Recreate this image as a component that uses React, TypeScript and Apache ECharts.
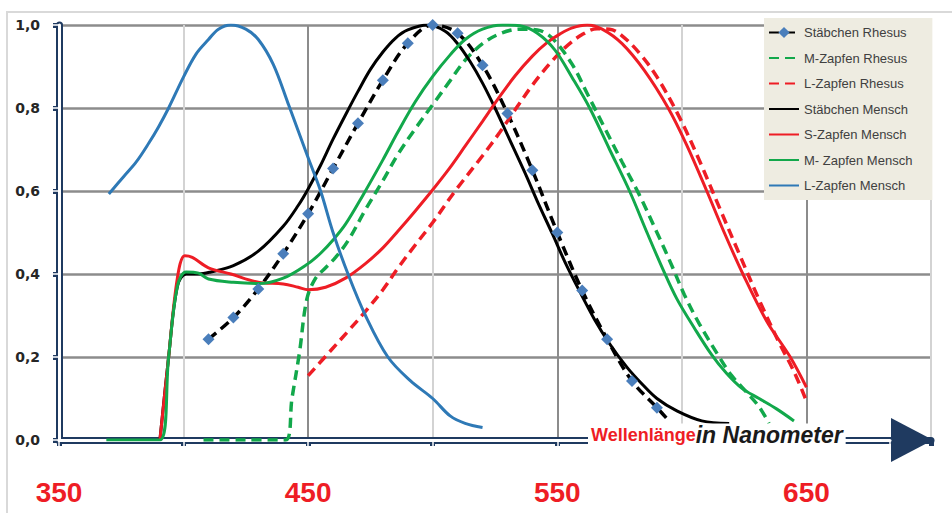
import React, { useEffect, useRef } from 'react';
import * as echarts from 'echarts';

// Wavelength (nm) / relative sensitivity pairs
const rodRhesusWl = [410, 420, 430, 440, 450, 460, 470, 480, 490, 500, 510, 520, 530, 540, 550, 560, 570, 580, 590];
const rodRhesusVal = [0.243, 0.295, 0.364, 0.449, 0.545, 0.654, 0.763, 0.867, 0.956, 1.0, 0.98, 0.903, 0.787, 0.65, 0.5, 0.36, 0.243, 0.142, 0.078];
const rodRhesusTail: [number, number] = [595, 0.045];

const mConeRhesus: [number, number][] = [
  [408, 0], [425, 0], [441, 0], [443.5, 0.1], [446.5, 0.21], [449.5, 0.34], [453, 0.39], [457, 0.415],
  [461, 0.44], [466, 0.48], [473, 0.555], [480, 0.625], [486, 0.688], [493, 0.75], [500, 0.808], [507, 0.866],
  [513, 0.915], [520, 0.955], [527, 0.979], [535, 0.99], [542, 0.988], [548, 0.968], [556, 0.905], [562, 0.835],
  [569, 0.752], [576, 0.67], [583, 0.59], [590, 0.5], [596, 0.42], [601, 0.35], [607, 0.28], [615, 0.2],
  [620, 0.155], [626, 0.115], [631, 0.08], [635, 0.04],
];

const lConeRhesus: [number, number][] = [
  [450, 0.155], [459, 0.215], [466, 0.262], [473, 0.31], [480, 0.362], [486, 0.414], [493, 0.47], [500, 0.524],
  [509, 0.6], [520, 0.685], [527, 0.742], [533, 0.795], [540, 0.855], [547, 0.907], [553, 0.945], [560, 0.977],
  [566, 0.991], [571, 0.99], [576, 0.974], [583, 0.932], [590, 0.875], [599, 0.778], [607, 0.674], [615, 0.561],
  [623, 0.449], [631, 0.338], [639, 0.235], [645, 0.165], [650, 0.094],
];

const rodHuman: [number, number][] = [
  [390.5, 0], [394, 0.2], [397.5, 0.37], [401, 0.4], [406, 0.4], [411, 0.405], [420, 0.42], [430, 0.455],
  [440, 0.515], [446, 0.565], [450, 0.605], [455, 0.662], [460, 0.725], [466, 0.795], [470, 0.84], [475, 0.893],
  [480, 0.935], [485, 0.968], [490, 0.988], [498, 1.0], [505, 0.985], [510, 0.955], [515, 0.912], [520, 0.86],
  [525, 0.8], [530, 0.735], [537, 0.644], [542, 0.575], [548, 0.497], [553, 0.43], [559, 0.358], [565, 0.29],
  [571, 0.232], [578, 0.175], [584, 0.135], [590, 0.1], [598, 0.07], [608, 0.046], [619, 0.04],
];

const sConeHuman: [number, number][] = [
  [390.5, 0], [394, 0.2], [397.5, 0.39], [400.5, 0.444], [403.5, 0.44], [410, 0.415], [419, 0.4], [430, 0.38],
  [440, 0.376], [446, 0.368], [450, 0.362], [457, 0.368], [465, 0.39], [473, 0.425], [480, 0.463], [486, 0.503],
  [493, 0.552], [500, 0.603], [507, 0.657], [513, 0.708], [520, 0.768], [526, 0.82], [533, 0.877], [540, 0.925],
  [546, 0.958], [551, 0.978], [556, 0.993], [562, 1.0], [568, 0.99], [576, 0.955], [585, 0.89], [594.5, 0.8],
  [602, 0.71], [610, 0.6], [617, 0.5], [624.5, 0.4], [634, 0.287], [643.5, 0.2], [650, 0.127],
];

const mConeHuman: [number, number][] = [
  [369, 0], [380, 0], [390.5, 0], [394, 0.2], [397.5, 0.37], [401, 0.405], [406, 0.402], [410, 0.388],
  [420, 0.38], [430, 0.377], [440, 0.39], [450, 0.425], [455, 0.45], [460, 0.482], [465, 0.52], [472, 0.59],
  [480, 0.675], [486, 0.742], [493, 0.815], [500, 0.876], [507, 0.928], [513, 0.965], [520, 0.99], [528, 1.0],
  [535, 0.998], [542, 0.98], [549, 0.94], [556, 0.873], [563, 0.8], [571, 0.7], [579, 0.6], [586, 0.5],
  [592.5, 0.41], [598, 0.34], [605, 0.27], [612, 0.205], [618, 0.16], [624, 0.125], [631, 0.1], [638, 0.075],
  [645, 0.046],
];

const lConeHuman: [number, number][] = [
  [370, 0.593], [376, 0.635], [381, 0.67], [386, 0.715], [390, 0.755], [394, 0.8], [400, 0.875], [405, 0.93],
  [410, 0.965], [414, 0.99], [419, 1.0], [425, 0.99], [430, 0.965], [436, 0.905], [442, 0.81], [446, 0.745],
  [450, 0.68], [455, 0.6], [460, 0.5], [466, 0.4], [473, 0.3], [482, 0.2], [491, 0.143], [500, 0.1],
  [507, 0.058], [513, 0.04], [520, 0.03],
];

const seriesNames = [
  'Stäbchen Rhesus',
  'M-Zapfen Rhesus',
  'L-Zapfen Rhesus',
  'Stäbchen Mensch',
  'S-Zapfen Mensch',
  'M- Zapfen Mensch',
  'L-Zapfen Mensch',
];

const NAVY = '#1f3a60';
const RED = '#ee1d25';
const GREEN = '#12a84b';
const BLUE = '#2e79b6';
const MARKER = '#4a7ebb';

export default function App() {
  const ref = useRef<HTMLDivElement>(null);

  useEffect(() => {
    if (!ref.current) return;
    const chart = echarts.init(ref.current, null, { renderer: 'svg' });

    const rodRhesusData: any[] = rodRhesusWl.map((w, i) => [w, rodRhesusVal[i]]);
    rodRhesusData.push({ value: rodRhesusTail, symbol: 'none' });

    const dash = [10, 6];
    const line = (name: string, data: any[], color: string, dashed: boolean) => ({
      name,
      type: 'line',
      xAxisIndex: 0,
      yAxisIndex: 0,
      data,
      smooth: 0.35,
      symbol: 'none',
      itemStyle: { color },
      lineStyle: { color, width: dashed ? 3.5 : 3, type: dashed ? dash : 'solid' },
    });

    const option: any = {
      animation: false,
      backgroundColor: '#ffffff',
      textStyle: { fontFamily: 'Liberation Sans' },
      graphic: [
        {
          type: 'polyline',
          silent: true,
          shape: { points: [[7, 513], [7, 12], [952, 12]] },
          style: { stroke: '#d9d9d9', lineWidth: 2, fill: 'none' },
        },
      ],
      title: {
        text: '{a|Wellenlänge}{b|in Nanometer}',
        left: 588,
        top: 422,
        padding: [0, 3, 0, 3],
        backgroundColor: '#ffffff',
        textStyle: {
          rich: {
            a: { color: RED, fontSize: 18, fontWeight: 'bold', fontFamily: 'Liberation Sans', lineHeight: 26 },
            b: { color: '#1a1a1a', fontSize: 23, fontWeight: 'bold', fontStyle: 'italic', fontFamily: 'Liberation Sans', lineHeight: 26 },
          },
        },
      },
      legend: {
        orient: 'vertical',
        left: 764,
        top: 18,
        itemWidth: 30,
        itemHeight: 14,
        itemGap: 12.5,
        padding: [8, 20, 8, 4],
        backgroundColor: '#eeece1',
        data: seriesNames.map((n, i) => (i === 0 ? { name: n } : { name: n, itemStyle: { opacity: 0 } })),
        textStyle: { fontSize: 13, color: '#404040', fontFamily: 'Liberation Sans' },
      },
      grid: [
        { left: 59, right: 21, top: 25, bottom: 73 },
        { left: 59, right: 62, top: 25, bottom: 73 },
      ],
      xAxis: [
        {
          type: 'value',
          gridIndex: 0,
          min: 350,
          max: 700,
          interval: 50,
          axisLine: {
            show: true,
            lineStyle: { color: NAVY, width: 7 },
            symbol: ['none', 'triangle'],
            symbolSize: [44, 42],
            symbolOffset: [0, -19],
          },
          axisTick: { show: true, length: 6, lineStyle: { color: NAVY, width: 5 } },
          axisLabel: {
            formatter: (v: number) => (v % 100 === 50 ? String(v) : ''),
            margin: 38,
            color: RED,
            fontSize: 28,
            fontWeight: 'bold',
            fontFamily: 'Liberation Sans',
          },
          splitLine: { show: true, lineStyle: { color: ['#8c8c8c', '#d3d3d3'], width: 2 } },
        },
        {
          type: 'value',
          gridIndex: 1,
          min: 350,
          max: 683.5,
          interval: 50,
          z: 1,
          axisLine: { show: true, lineStyle: { color: '#ffffff', width: 3 } },
          axisTick: { show: true, length: 6, lineStyle: { color: '#ffffff', width: 1.5 } },
          axisLabel: { show: false },
          splitLine: { show: false },
        },
      ],
      yAxis: [
        {
          type: 'value',
          gridIndex: 0,
          min: 0,
          max: 1,
          interval: 0.2,
          axisLine: { show: true, lineStyle: { color: NAVY, width: 7 } },
          axisTick: { show: true, length: 6, lineStyle: { color: NAVY, width: 5 } },
          axisLabel: {
            formatter: (v: number) => v.toFixed(1).replace('.', ','),
            margin: 19,
            color: '#262626',
            fontSize: 14,
            fontWeight: 'bold',
            fontFamily: 'DejaVu Sans',
          },
          splitLine: { show: true, lineStyle: { color: '#8c8c8c', width: 2.5 } },
        },
        {
          type: 'value',
          gridIndex: 1,
          min: 0,
          max: 1,
          interval: 0.2,
          z: 1,
          axisLine: { show: true, lineStyle: { color: '#ffffff', width: 3 } },
          axisTick: { show: true, length: 6, lineStyle: { color: '#ffffff', width: 1.5 } },
          axisLabel: { show: false },
          splitLine: { show: false },
        },
      ],
      series: [
        {
          name: seriesNames[0],
          type: 'line',
          xAxisIndex: 0,
          yAxisIndex: 0,
          data: rodRhesusData,
          smooth: 0.35,
          symbol: 'diamond',
          symbolSize: 12,
          showSymbol: true,
          showAllSymbol: true,
          itemStyle: { color: MARKER },
          lineStyle: { color: '#000000', width: 3.5, type: dash },
        },
        line(seriesNames[1], mConeRhesus, GREEN, true),
        line(seriesNames[2], lConeRhesus, RED, true),
        line(seriesNames[3], rodHuman, '#000000', false),
        line(seriesNames[4], sConeHuman, RED, false),
        line(seriesNames[5], mConeHuman, GREEN, false),
        line(seriesNames[6], lConeHuman, BLUE, false),
      ],
    };

    chart.setOption(option);
    return () => chart.dispose();
  }, []);

  return (
    <div
      ref={ref}
      style={{ position: 'absolute', left: 0, top: 0, width: 952, height: 513 }}
    />
  );
}
